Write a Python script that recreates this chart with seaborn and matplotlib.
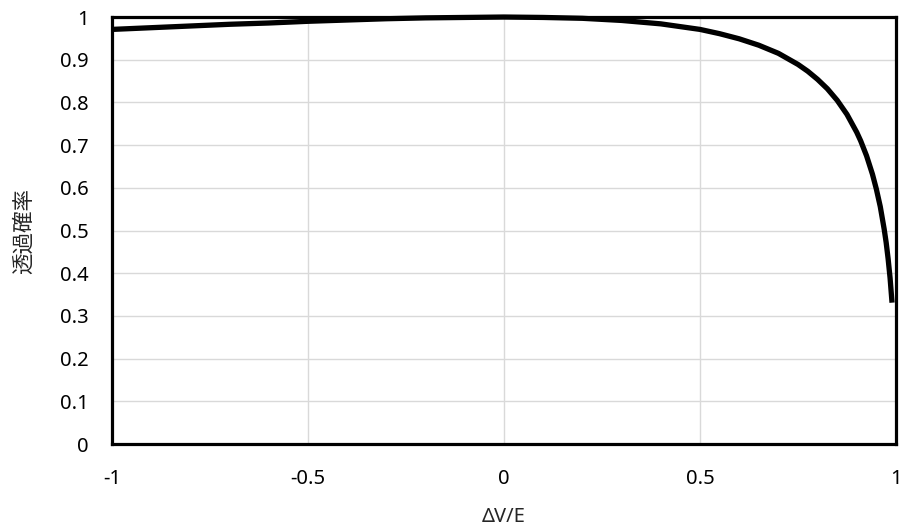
import numpy as np
import pandas as pd
import matplotlib
matplotlib.use("Agg")
import matplotlib.pyplot as plt
import seaborn as sns

# values
dv_over_e = [-1.0, -0.9, -0.8, -0.7, -0.6, -0.5, -0.4, -0.3, -0.2, -0.1, 0.0,
             0.1, 0.2, 0.3, 0.4, 0.5, 0.55, 0.6, 0.65, 0.7, 0.75, 0.775, 0.8, 0.825, 0.85,
             0.875, 0.9, 0.91, 0.925, 0.94, 0.95, 0.96, 0.97, 0.975, 0.98, 0.985, 0.99]
transmission = [0.971, 0.975, 0.979, 0.983, 0.986, 0.990, 0.993, 0.996, 0.998, 0.999, 1.0,
                0.999, 0.997, 0.992, 0.984, 0.971, 0.961, 0.949, 0.934, 0.915, 0.889, 0.873, 0.854, 0.832, 0.805,
                0.772, 0.730, 0.710, 0.675, 0.632, 0.597, 0.556, 0.503, 0.472, 0.434, 0.389, 0.331]

x_ticks = [-1, -0.5, 0, 0.5, 1]
x_tick_labels = ["-1", "-0.5", "0", "0.5", "1"]
y_ticks = [0, 0.1, 0.2, 0.3, 0.4, 0.5, 0.6, 0.7, 0.8, 0.9, 1]
y_tick_labels = ["0", "0.1", "0.2", "0.3", "0.4", "0.5", "0.6", "0.7", "0.8", "0.9", "1"]

df = pd.DataFrame({"dv": dv_over_e, "T": transmission})

sns.set_style("whitegrid")
plt.rcParams['font.family'] = ['Noto Sans', 'Noto Sans CJK JP', 'DejaVu Sans']

fig = plt.figure(figsize=(9.05, 5.32), dpi=100)
ax = fig.add_axes([0.1238, 0.1654, 0.8662, 0.8026])

sns.lineplot(data=df, x="dv", y="T", color="black", linewidth=3.8, ax=ax,
             solid_capstyle="butt", clip_on=False, zorder=5)

ax.set_xlim(-1, 1)
ax.set_ylim(0, 1)
ax.set_xticks(x_ticks)
ax.set_xticklabels(x_tick_labels)
ax.set_yticks(y_ticks)
ax.set_yticklabels(y_tick_labels)
ax.tick_params(axis="both", length=0, labelsize=14.5, colors="black")
ax.tick_params(axis="y", pad=17)
ax.tick_params(axis="x", pad=18)

ax.grid(True, color="#d9d9d9", linewidth=1.0)
for side in ax.spines.values():
    side.set_visible(True)
    side.set_color("black")
    side.set_linewidth(2.3)
    side.set_zorder(4)

ax.set_xlabel("ΔV/E", fontsize=14.5, labelpad=13)
ax.set_ylabel("透過確率", fontsize=15.5, labelpad=18,
              family=['Noto Sans CJK JP', 'DejaVu Sans'])

plt.savefig("out.png", dpi=100)
